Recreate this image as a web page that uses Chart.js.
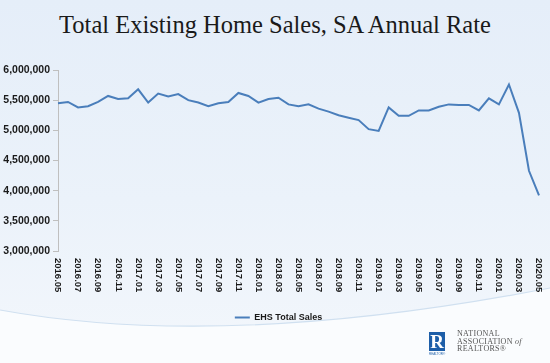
<!DOCTYPE html>
<html>
<head>
<meta charset="utf-8">
<script src="https://cdn.jsdelivr.net/npm/chart.js@4/dist/chart.umd.min.js"></script>
<style>
    body { margin: 0; }
    #page {
        position: relative; width: 550px; height: 363px; overflow: hidden;
        background: linear-gradient(180deg, #e5eef9 0%, #ebf2fa 55%, #f3f7fc 100%);
    }
    #fond { position: absolute; left: 0; top: 0; }
    #titre {
        position: absolute; left: 0; top: 11px; width: 550px; text-align: center;
        font-family: "Liberation Serif", serif; font-size: 24.5px; color: #1a1a1a;
    }
    #zone { position: absolute; left: 0; top: 0; }
    #logo { position: absolute; left: 429px; top: 332px; }
    #logo .carre {
        position: absolute; left: 0; top: 0; width: 16px; height: 19px; background: #1d5ea8;
        color: #fff; font-family: "Liberation Serif", serif; font-weight: bold; font-size: 19px;
        line-height: 20px; text-align: center;
    }
    #logo .petit {
        position: absolute; left: 0; top: 20px; width: 16px; font-family: "Liberation Sans", sans-serif;
        font-size: 3px; color: #1d5ea8; text-align: center;
    }
    #logo .nom {
        position: absolute; left: 28px; top: -2px; width: 100px; font-family: "Liberation Serif", serif;
        font-size: 8px; line-height: 7.6px; color: #555; letter-spacing: 0.3px;
    }
</style>
</head>
<body>
<div id="page">
    <svg id="fond" width="550" height="363">
        <path d="M0,310 Q225,351 550,288 L550,363 L0,363 Z" fill="#fafcfe"/>
        <path d="M0,310 Q225,351 550,288" fill="none" stroke="#d0e0f0" stroke-width="1.2"/>
    </svg>
    <div id="titre">Total Existing Home Sales, SA Annual Rate</div>
    <div id="zone"><canvas id="graphiqueVentes" width="550" height="363"></canvas></div>
    <div id="logo">
        <div class="carre">R</div>
        <div class="petit">REALTOR®</div>
        <div class="nom">NATIONAL<br>ASSOCIATION <i>of</i><br>REALTORS®</div>
    </div>
</div>

<script>
var mois = [
    "2016.05", "2016.06", "2016.07", "2016.08", "2016.09", "2016.10", "2016.11", "2016.12",
    "2017.01", "2017.02", "2017.03", "2017.04", "2017.05", "2017.06", "2017.07", "2017.08",
    "2017.09", "2017.10", "2017.11", "2017.12", "2018.01", "2018.02", "2018.03", "2018.04",
    "2018.05", "2018.06", "2018.07", "2018.08", "2018.09", "2018.10", "2018.11", "2018.12",
    "2019.01", "2019.02", "2019.03", "2019.04", "2019.05", "2019.06", "2019.07", "2019.08",
    "2019.09", "2019.10", "2019.11", "2019.12", "2020.01", "2020.02", "2020.03", "2020.04",
    "2020.05"
];

var ventesTotales = [
    5450000, 5470000, 5380000, 5400000, 5470000, 5570000, 5520000, 5530000,
    5680000, 5460000, 5610000, 5560000, 5600000, 5500000, 5460000, 5400000,
    5450000, 5470000, 5620000, 5570000, 5460000, 5520000, 5540000, 5430000,
    5400000, 5430000, 5360000, 5310000, 5250000, 5210000, 5170000, 5020000,
    4990000, 5380000, 5240000, 5240000, 5330000, 5330000, 5390000, 5430000,
    5420000, 5420000, 5330000, 5530000, 5430000, 5760000, 5290000, 4330000,
    3920000
];

var graduationsY = [3000000, 3500000, 4000000, 4500000, 5000000, 5500000, 6000000];

var couleurLigne = "#4a7ebb";

// étiquettes de l'axe x écrites de haut en bas, un mois sur deux
var etiquettesVerticales = {
    id: "etiquettesVerticales",
    afterDraw: function(chart) {
        var ctx = chart.ctx;
        var echelle = chart.scales.x;
        ctx.save();
        ctx.font = "bold 9.5px 'Liberation Sans', sans-serif";
        ctx.fillStyle = "#1a1a1a";
        ctx.textAlign = "left";
        ctx.textBaseline = "middle";
        mois.forEach(function(m, i) {
            if (i % 2 !== 0) return;
            var x = echelle.getPixelForValue(i);
            ctx.save();
            ctx.translate(x, echelle.top + 7);
            ctx.rotate(Math.PI / 2);
            ctx.fillText(m, 0, 0);
            ctx.restore();
        });
        ctx.restore();
    }
};

// la légende est un peu décalée vers la droite dans l'original
var decalerLegende = {
    id: "decalerLegende",
    afterLayout: function(chart) {
        chart.legend.left += 18;
    }
};

function afficherGraphique() {
    var ctx = document.getElementById("graphiqueVentes").getContext("2d");

    var graphique = new Chart(ctx, {
        type: "line",
        data: {
            labels: mois,
            datasets: [{
                label: "EHS Total Sales",
                data: ventesTotales,
                borderColor: couleurLigne,
                backgroundColor: couleurLigne,
                borderWidth: 2,
                pointRadius: 0,
                tension: 0
            }]
        },
        options: {
            responsive: false,
            animation: false,
            layout: {
                padding: { left: 0, right: 11, top: 70, bottom: 31 }
            },
            scales: {
                x: {
                    grid: { display: false },
                    border: { display: false },
                    ticks: { display: false },
                    afterFit: function(scale) { scale.height = 54; }
                },
                y: {
                    min: graduationsY[0],
                    max: graduationsY[graduationsY.length - 1],
                    afterBuildTicks: function(scale) {
                        scale.ticks = graduationsY.map(function(v) { return { value: v }; });
                    },
                    afterFit: function(scale) { scale.width = 58; },
                    grid: {
                        display: true,
                        drawOnChartArea: false,
                        drawTicks: true,
                        tickLength: 5,
                        color: "#bfbfbf"
                    },
                    border: { display: true, color: "#bfbfbf" },
                    ticks: {
                        padding: 3,
                        color: "#1a1a1a",
                        font: { family: "'Liberation Sans', sans-serif", size: 10.5, weight: "bold" },
                        callback: function(v) { return Number(v).toLocaleString("en-US"); }
                    }
                }
            },
            plugins: {
                legend: {
                    position: "bottom",
                    labels: {
                        usePointStyle: true,
                        pointStyle: "line",
                        pointStyleWidth: 15,
                        padding: 8,
                        color: "#1a1a1a",
                        font: { family: "'Liberation Sans', sans-serif", size: 9, weight: "bold" }
                    }
                },
                tooltip: { enabled: false }
            }
        },
        plugins: [etiquettesVerticales, decalerLegende]
    });
}

afficherGraphique();
</script>
</body>
</html>
